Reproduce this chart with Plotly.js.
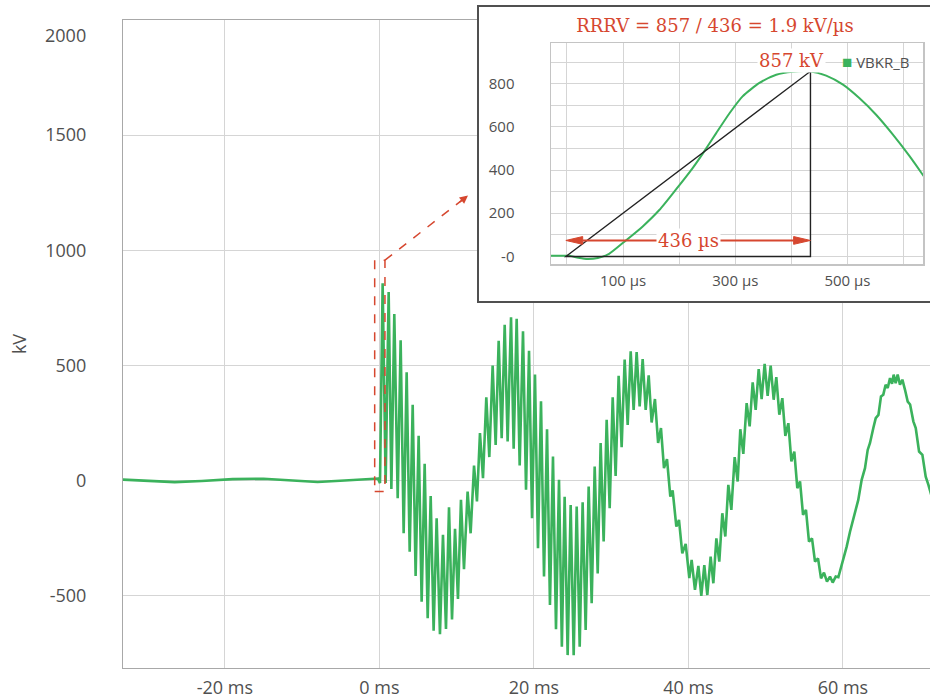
<!DOCTYPE html>
<html>
<head>
<meta charset="utf-8">
<script src="https://cdn.plot.ly/plotly-3.0.1.min.js"></script>
<style>
  html, body { margin: 0; padding: 0; background: #fff; overflow: hidden; width: 930px; height: 700px; }
  #main { position: absolute; left: 0; top: 0; width: 940px; height: 700px; }
  #detail { position: absolute; left: 477px; top: 5px; width: 466px; height: 294px;
            border: 2px solid #505050; background: #fff; }
</style>
</head>
<body>
<div id="main"></div>
<div id="detail"></div>
<script>
// ---- Breaker B voltage over the whole record: successive turning points (ms, kV)
const timeMs = [
  -33.2, -30, -26.5, -23, -19, -15, -11.5, -8, -4.5, -1.5, -0.2,
  0.08, 0.42, 0.81, 1.20, 1.55, 1.93, 2.37, 2.75, 3.14, 3.53, 3.92, 4.31, 4.69, 5.08,
  5.47, 5.86, 6.25, 6.64, 7.02, 7.41, 7.84, 8.23, 8.62, 9.01, 9.40, 9.79, 10.17, 10.56,
  10.95, 11.42, 11.81, 12.25, 12.63, 13.02, 13.41, 13.84, 14.23, 14.66, 15.05, 15.44,
  15.83, 16.22, 16.60, 17.04, 17.38, 17.77, 18.16, 18.59, 18.98, 19.37, 19.76, 20.14,
  20.53, 20.92, 21.31, 21.70, 22.08, 22.47, 22.86, 23.25, 23.62, 23.98, 24.37, 24.76,
  25.15, 25.54, 25.93, 26.31, 26.70, 27.09, 27.48, 27.87, 28.26, 28.64, 29.03, 29.42,
  29.81, 30.20, 30.58, 30.97, 31.36, 31.75, 32.14, 32.53, 32.91, 33.30, 33.69, 34.08,
  34.47, 34.86, 35.24, 35.67, 36.08, 36.45, 36.84, 37.23, 37.66, 37.96, 38.44, 38.78,
  39.21, 39.65, 40.12, 40.42, 40.85, 41.29, 41.67, 42.06, 42.45, 42.88, 43.23, 43.62,
  44.00, 44.39, 44.78, 45.17, 45.56, 45.99, 46.38, 46.72, 47.11, 47.54, 47.93, 48.32,
  48.71, 49.10, 49.48, 49.87, 50.26, 50.65, 51.04, 51.38, 51.77, 52.16, 52.55, 52.94,
  53.33, 53.71, 54.10, 54.45, 54.84, 55.22, 55.61, 56.00, 56.39, 56.78, 57.17, 57.55,
  57.94, 58.33, 58.68, 59.07, 59.41, 59.85, 60.49, 60.92, 61.5, 61.99, 62.43, 62.86,
  63.21, 63.51, 63.94, 64.25, 64.6, 64.93, 65.23, 65.53, 65.80, 66.10, 66.36, 66.57,
  66.83, 67.09, 67.39, 67.70, 68.04, 68.39, 68.7, 69.12, 69.43, 69.86, 70.29, 70.72,
  71.07, 71.5, 72.6
];
const voltKV = [
  4, 0, -7, -2, 6, 8, 0, -6, 0, 8, 9,
  -11, 857, -11, 819, -37, 723, -77, 609, -229, 470, -309, 329, -414, 194,
  -526, 73, -598, -67, -652, -164, -667, -235, -645, -116, -603, -210, -514, -84,
  -385, -48, -229, 65, -91, 206, 10, 361, 102, 499, 155, 607,
  184, 677, 170, 709, 138, 703, 65, 648, -40, 564, -164, 460,
  -294, 344, -417, 223, -540, 104, -646, 3, -722, -70, -758, -106,
  -758, -113, -722, -94, -649, -26, -533, 61, -403, 163, -265, 264,
  -120, 362, 20, 455, 145, 525, 242, 561, 307, 558, 322, 528,
  307, 457, 252, 354, 163, 228, 54, 93, -70, -43, -200, -171,
  -316, -275, -424, -345, -475, -371, -501, -367, -497, -330, -446, -251,
  -352, -142, -243, -19, -127, 102, -4, 223, 116, 336, 235, 426,
  307, 484, 354, 507, 368, 499, 351, 449, 286, 358, 194, 249,
  83, 126, -33, -4, -149, -127, -265, -251, -352, -338, -425, -400,
  -439, -417, -443, -417, -420, -367, -287, -222, -150, -84, 3, 54,
  133, 163, 228, 271, 285, 365, 373, 416, 402, 445, 420, 460,
  423, 460, 416, 438, 394, 343, 330, 257, 228, 126, 112, 17,
  -19, -70, -170
];

// ---- First rise after current zero (µs, kV)
const riseTimeUs = [-28.5, 4, 20, 37, 55, 75, 105, 135, 165, 194, 224, 242, 266, 290,
                    313, 343, 373, 402, 432, 462, 492, 521, 551, 581, 611, 636];
const riseVoltKV = [3, 3, -6, -12, -7, 12, 74, 139, 216, 309, 409, 476, 571, 664,
                    741, 803, 841, 855, 857, 837, 795, 733, 656, 564, 463, 371];

const seriesName = 'VBKR_B';
const peakKV = 857;          // crest of the first TRV peak
const riseUs = 436;          // time from zero to crest
const riseStartUs = -2;
const rrrvText = 'RRRV = 857 / 436 = 1.9 kV/µs';

// Axis ticks
const mainXTicks = [-20, 0, 20, 40, 60];
const mainYTicks = [-500, 0, 500, 1000, 1500];
const mainYLabels = ['-500', '0', '500', '1000', '1500'];
const mainTopTick = 2000;
const detailXTicks = [100, 300, 500];
const detailYTicks = [0, 200, 400, 600, 800];
const detailYLabels = ['-0', '200', '400', '600', '800'];

// Outline of the magnified window on the main chart and where its pointer ends
const windowMs = [-0.61, 0.72];
const windowKV = [-48, 957];
const pointerEnd = [11.47, 1238];

const RED = '#d6472f';
const GREEN = '#3bb25c';
const GRID = '#d5d5d5';
const TXT = '#505050';
const SANS = '"Open Sans", "Noto Sans", sans-serif';
const SERIF = '"DejaVu Serif", serif';

// ---------------- main chart ----------------
Plotly.newPlot('main', [{
  x: timeMs, y: voltKV, type: 'scatter', mode: 'lines', name: seriesName,
  line: { color: GREEN, width: 2.6, shape: 'linear' }, hoverinfo: 'skip'
}], {
  width: 940, height: 700,
  margin: { l: 123, r: 0, t: 20, b: 32 },
  paper_bgcolor: '#fff', plot_bgcolor: '#fff',
  showlegend: false,
  font: { family: SANS, size: 18, color: TXT },
  xaxis: {
    range: [-33.19, 72.57], tickmode: 'array', tickvals: mainXTicks,
    ticktext: mainXTicks.map(v => v + ' ms'),
    showgrid: true, gridcolor: GRID, gridwidth: 1, zeroline: false,
    showline: true, linecolor: '#a8a8a8', linewidth: 1, mirror: true,
    ticks: '', ticklabelstandoff: 3
  },
  yaxis: {
    range: [-814, 2000], tickmode: 'array', tickvals: mainYTicks, ticktext: mainYLabels,
    showgrid: true, gridcolor: GRID, gridwidth: 1, zeroline: false,
    showline: true, linecolor: '#a8a8a8', linewidth: 1, mirror: true,
    ticks: '', ticklabelstandoff: 32,
    title: { text: 'kV', font: { size: 18, color: TXT }, standoff: 13 }
  },
  shapes: [
    { type: 'rect', xref: 'x', yref: 'y', x0: windowMs[0], x1: windowMs[1], y0: windowKV[0], y1: windowKV[1],
      line: { color: RED, width: 1.5, dash: 'dash' }, fillcolor: 'rgba(0,0,0,0)', layer: 'above' },
    { type: 'line', xref: 'x', yref: 'y', x0: windowMs[1], y0: windowKV[1], x1: pointerEnd[0], y1: pointerEnd[1],
      line: { color: RED, width: 1.5, dash: 'dash' }, layer: 'above' }
  ],
  annotations: [
    { xref: 'paper', yref: 'y', x: 0, y: mainTopTick, xanchor: 'right', yanchor: 'middle',
      xshift: -35, yshift: -15, text: String(mainTopTick), showarrow: false,
      font: { family: SANS, size: 18, color: TXT } },
    { xref: 'x', yref: 'y', x: pointerEnd[0], y: pointerEnd[1], text: '', showarrow: true,
      ax: -10, ay: 8, arrowhead: 2, arrowsize: 1.1, arrowwidth: 1.5, arrowcolor: RED, standoff: 0 }
  ]
}, { displayModeBar: false, staticPlot: true });

// ---------------- magnified first rise ----------------
const t0 = riseStartUs, t1 = riseStartUs + riseUs;
const arrowKV = 74, headUs = 30, headKV = 18;
Plotly.newPlot('detail', [{
  x: riseTimeUs, y: riseVoltKV, type: 'scatter', mode: 'lines', name: seriesName,
  line: { color: GREEN, width: 2, shape: 'spline', smoothing: 0.6 }, hoverinfo: 'skip'
}], {
  width: 466, height: 294,
  margin: { l: 72, r: 22, t: 36, b: 37 },
  paper_bgcolor: '#fff', plot_bgcolor: '#fff',
  showlegend: false,
  font: { family: SANS, size: 15, color: TXT },
  title: {
    text: rrrvText, font: { family: SERIF, size: 18, color: RED },
    xref: 'container', yref: 'container', x: 236 / 466, y: 1 - 19 / 294,
    xanchor: 'center', yanchor: 'middle'
  },
  xaxis: {
    range: [-28.5, 634.6], tickmode: 'array', tickvals: detailXTicks,
    ticktext: detailXTicks.map(v => v + ' µs'),
    showgrid: true, gridcolor: GRID, zeroline: false,
    minor: { tickmode: 'linear', tick0: 0, dtick: 100, showgrid: true, gridcolor: GRID, ticks: '' },
    showline: true, linecolor: '#c4c4c4', linewidth: 1.5, mirror: true,
    ticks: '', ticklabelstandoff: 2
  },
  yaxis: {
    range: [-35, 988], tickmode: 'array', tickvals: detailYTicks, ticktext: detailYLabels,
    showgrid: true, gridcolor: GRID, zeroline: false,
    minor: { tickmode: 'linear', tick0: 0, dtick: 100, showgrid: true, gridcolor: GRID, ticks: '' },
    showline: true, linecolor: '#c4c4c4', linewidth: 1.5, mirror: true,
    ticks: '', ticklabelstandoff: 32
  },
  shapes: [
    // slope triangle: zero to crest over the rise time
    { type: 'path', xref: 'x', yref: 'y',
      path: `M ${t0},0 L ${t1},${peakKV} L ${t1},0 Z`,
      line: { color: '#222', width: 1.4 }, fillcolor: 'rgba(0,0,0,0)', layer: 'above' },
    // double-headed time arrow
    { type: 'line', xref: 'x', yref: 'y', x0: t0 + headUs, x1: t1 - headUs, y0: arrowKV, y1: arrowKV,
      line: { color: RED, width: 2 }, layer: 'above' },
    { type: 'path', xref: 'x', yref: 'y',
      path: `M ${t0},${arrowKV} L ${t0 + headUs},${arrowKV + headKV} L ${t0 + headUs},${arrowKV - headKV} Z`,
      line: { color: RED, width: 1 }, fillcolor: RED, layer: 'above' },
    { type: 'path', xref: 'x', yref: 'y',
      path: `M ${t1},${arrowKV} L ${t1 - headUs},${arrowKV + headKV} L ${t1 - headUs},${arrowKV - headKV} Z`,
      line: { color: RED, width: 1 }, fillcolor: RED, layer: 'above' }
  ],
  annotations: [
    { xref: 'x', yref: 'y', x: (t0 + t1) / 2, y: arrowKV, text: riseUs + ' µs', showarrow: false,
      bgcolor: '#fff', borderpad: 1, font: { family: SERIF, size: 18, color: RED } },
    { xref: 'x', yref: 'y', x: 400, y: 908, text: peakKV + ' kV', showarrow: false,
      bgcolor: '#fff', borderpad: 1, font: { family: SERIF, size: 18, color: RED } },
    { xref: 'paper', yref: 'paper', x: 0.778, y: 0.915, xanchor: 'left', yanchor: 'middle',
      text: '<span style="color:' + GREEN + ';font-size:17px">■</span> ' + seriesName,
      showarrow: false, font: { family: SANS, size: 15, color: TXT } }
  ]
}, { displayModeBar: false, staticPlot: true });
</script>
</body>
</html>
